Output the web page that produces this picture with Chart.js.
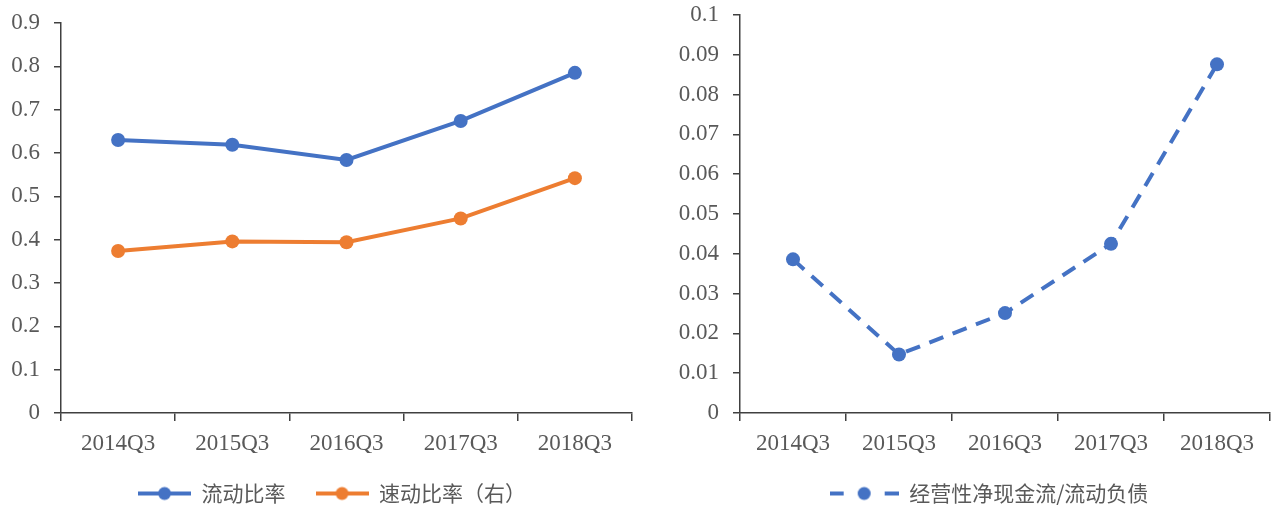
<!DOCTYPE html>
<html>
<head>
<meta charset="utf-8">
<script src="https://cdn.jsdelivr.net/npm/chart.js@4/dist/chart.umd.min.js"></script>
<style>
  html, body { margin: 0; padding: 0; background: #ffffff; }
  #wrap { position: relative; width: 1277px; height: 505px; }
  .pane { position: absolute; top: 0; height: 505px; }
  #leftPane { left: 0; width: 640px; }
  #rightPane { left: 640px; width: 637px; }
</style>
</head>
<body>
<div id="wrap">
  <div class="pane" id="leftPane"><canvas id="leftChart"></canvas></div>
  <div class="pane" id="rightPane"><canvas id="rightChart"></canvas></div>
</div>
<script>
// Quarterly liquidity indicators
const categories = ['2014Q3', '2015Q3', '2016Q3', '2017Q3', '2018Q3'];
const currentRatio = [0.630, 0.619, 0.584, 0.674, 0.785];
const quickRatio = [0.374, 0.396, 0.394, 0.449, 0.542];
const cashFlowToCurrentLiab = [0.0386, 0.0147, 0.0251, 0.0425, 0.0876];

const leftTickValues = [0, 0.1, 0.2, 0.3, 0.4, 0.5, 0.6, 0.7, 0.8, 0.9];
const rightTickValues = [0, 0.01, 0.02, 0.03, 0.04, 0.05, 0.06, 0.07, 0.08, 0.09, 0.1];

const BLUE = '#4472C4';
const ORANGE = '#ED7D31';
const AXIS = '#404040';
const TEXT = '#595959';
const SERIF = '"Liberation Serif", "Times New Roman", serif';
const CJK = '"Noto Sans CJK SC", "Noto Sans", sans-serif';

// Legend symbol: a line segment (solid or dashed) with a round marker in the middle
function legendSymbol(color, width, dashed) {
  const c = document.createElement('canvas');
  c.width = width; c.height = 16;
  const g = c.getContext('2d');
  g.strokeStyle = color;
  g.lineWidth = 4;
  g.beginPath();
  if (dashed) {
    g.moveTo(0, 8); g.lineTo(14, 8);
    g.moveTo(width - 14, 8); g.lineTo(width, 8);
  } else {
    g.moveTo(0, 8); g.lineTo(width, 8);
  }
  g.stroke();
  g.fillStyle = color;
  g.beginPath();
  g.arc(width / 2, 8, 6.5, 0, Math.PI * 2);
  g.fill();
  return c;
}

// Places the legend row around a given horizontal centre of the canvas
const legendCentre = {
  id: 'legendCentre',
  afterLayout(chart, args, opts) {
    const L = chart.legend;
    if (!L || opts.centre == null) return;
    const half = (L.right - L.left) / 2;
    L.left = opts.centre - half;
    L.right = opts.centre + half;
  }
};

function yScale(ticks, max, axisWidth) {
  return {
    min: 0,
    max: max,
    afterBuildTicks: s => { s.ticks = ticks.map(v => ({ value: v })); },
    afterFit: s => { s.width = axisWidth; s.paddingTop = 0; s.paddingBottom = 0; },
    border: { display: true, color: AXIS, width: 1.5 },
    grid: { display: true, drawOnChartArea: false, drawTicks: true, tickLength: 7, color: AXIS, lineWidth: 1.5 },
    ticks: {
      color: TEXT,
      padding: 14,
      font: { family: SERIF, size: 23 },
      callback: v => String(+Number(v).toFixed(2))
    }
  };
}

function xScale() {
  return {
    type: 'category',
    offset: true,
    afterFit: s => { s.height = 40; s.paddingLeft = 0; s.paddingRight = 0; },
    border: { display: true, color: AXIS, width: 1.5 },
    grid: { display: true, offset: true, drawOnChartArea: false, drawTicks: true, tickLength: 8, color: AXIS, lineWidth: 1.5 },
    ticks: {
      color: TEXT,
      padding: 9,
      maxRotation: 0,
      autoSkip: false,
      font: { family: SERIF, size: 23 }
    }
  };
}

function legendOptions(symbolWidth) {
  return {
    display: true,
    position: 'bottom',
    maxHeight: 52,
    labels: {
      usePointStyle: true,
      pointStyleWidth: symbolWidth,
      color: TEXT,
      padding: 30,
      font: { family: CJK, size: 21 },
      generateLabels: chart => chart.data.datasets.map((ds, i) => ({
        text: ds.label,
        fontColor: TEXT,
        pointStyle: ds.legendSymbol,
        lineWidth: 0,
        hidden: false,
        datasetIndex: i
      }))
    }
  };
}

Chart.defaults.animation = false;
Chart.defaults.responsive = true;
Chart.defaults.maintainAspectRatio = false;

new Chart(document.getElementById('leftChart'), {
  type: 'line',
  data: {
    labels: categories,
    datasets: [
      {
        label: '流动比率',
        data: currentRatio,
        borderColor: BLUE,
        backgroundColor: BLUE,
        borderWidth: 4,
        pointRadius: 7,
        pointBorderWidth: 0,
        pointBackgroundColor: BLUE,
        tension: 0,
        legendSymbol: legendSymbol(BLUE, 53)
      },
      {
        label: '速动比率（右）',
        data: quickRatio,
        borderColor: ORANGE,
        backgroundColor: ORANGE,
        borderWidth: 4,
        pointRadius: 7,
        pointBorderWidth: 0,
        pointBackgroundColor: ORANGE,
        tension: 0,
        legendSymbol: legendSymbol(ORANGE, 53)
      }
    ]
  },
  plugins: [legendCentre],
  options: {
    layout: { padding: { top: 23, right: 8, bottom: 0, left: 0 } },
    plugins: {
      legend: legendOptions(53),
      legendCentre: { centre: 332 },
      tooltip: { enabled: false }
    },
    scales: {
      x: xScale(),
      y: yScale(leftTickValues, 0.9, 61)
    }
  }
});

new Chart(document.getElementById('rightChart'), {
  type: 'line',
  data: {
    labels: categories,
    datasets: [
      {
        label: '经营性净现金流/流动负债',
        data: cashFlowToCurrentLiab,
        borderColor: BLUE,
        backgroundColor: BLUE,
        borderWidth: 4,
        borderDash: [15, 10],
        pointRadius: 7,
        pointBorderWidth: 0,
        pointBackgroundColor: BLUE,
        tension: 0,
        legendSymbol: legendSymbol(BLUE, 69, true)
      }
    ]
  },
  plugins: [legendCentre],
  options: {
    layout: { padding: { top: 15, right: 2, bottom: 0, left: 0 } },
    plugins: {
      legend: legendOptions(69),
      legendCentre: { centre: 349 },
      tooltip: { enabled: false }
    },
    scales: {
      x: xScale(),
      y: yScale(rightTickValues, 0.1, 100)
    }
  }
});
</script>
</body>
</html>
